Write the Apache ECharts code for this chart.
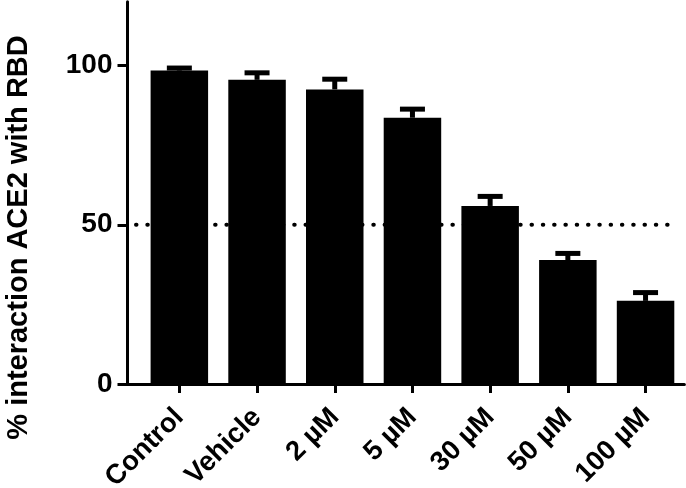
<!DOCTYPE html>
<html>
<head>
<meta charset="utf-8">
<script src="https://cdn.jsdelivr.net/npm/echarts@6/dist/echarts.min.js"></script>
<style>html,body{margin:0;padding:0;background:#fff}#c{width:686px;height:488px}</style>
</head>
<body>
<div id="c"></div>
<script>
const categories = ['Control', 'Vehicle', '2 \u00b5M', '5 \u00b5M', '30 \u00b5M', '50 \u00b5M', '100 \u00b5M'];
const values = [98.4, 95.5, 92.5, 83.6, 55.9, 38.9, 26.1];
const sem = [0.8, 2.2, 3.2, 2.7, 3.0, 2.1, 2.6];
const yTicks = [0, 50, 100];
const refLine = 50;
const yTitle = '% interaction ACE2 with RBD';

const FONT = 'Liberation Sans, Arial, sans-serif';
const chart = echarts.init(document.getElementById('c'), null, {renderer: 'canvas'});
const gTop = 1.8, gBottom = 104;
const gb = {top: gTop, bottom: gBottom, containLabel: false, outerBoundsMode: 'none'};

chart.setOption({
  animation: false,
  backgroundColor: '#fff',
  grid: [
    Object.assign({left: 127.5, right: 1.6}, gb),
    Object.assign({left: 140.5, right: 1.6}, gb),
    Object.assign({left: 136, right: 8}, gb)
  ],
  xAxis: [
    {gridIndex: 0, type: 'value', min: 0, max: 1,
     axisLine: {show: true, onZero: false, lineStyle: {color: '#000', width: 3}},
     axisTick: {show: false}, axisLabel: {show: false}, splitLine: {show: false}},
    {gridIndex: 1, type: 'category', data: categories,
     axisLine: {show: false},
     axisTick: {show: true, alignWithLabel: true, length: 9, lineStyle: {color: '#000', width: 3}},
     axisLabel: {rotate: 45, margin: 29, color: '#000', fontFamily: FONT, fontWeight: 'bold', fontSize: 27.5, interval: 0},
     splitLine: {show: false}},
    {gridIndex: 2, type: 'value', min: 0, max: 1, show: false}
  ],
  yAxis: [
    {gridIndex: 0, type: 'value', min: 0, max: 120,
     axisLine: {show: true, lineStyle: {color: '#000', width: 3}},
     axisTick: {show: true, length: 10, customValues: yTicks, lineStyle: {color: '#000', width: 3}},
     axisLabel: {margin: 15, customValues: yTicks, color: '#000', fontFamily: FONT, fontWeight: 'bold', fontSize: 28},
     splitLine: {show: false}},
    {gridIndex: 1, type: 'value', min: 0, max: 120, show: false},
    {gridIndex: 2, type: 'value', min: 0, max: 120, show: false}
  ],
  graphic: [{
    type: 'text', x: 19, y: 237.5, rotation: Math.PI / 2,
    style: {text: yTitle, fill: '#000', font: 'bold 29px ' + FONT, textAlign: 'center', textVerticalAlign: 'middle'}
  }],
  series: [
    {type: 'line', xAxisIndex: 2, yAxisIndex: 2, z: 1, symbol: 'none', silent: true,
     data: [[0, refLine], [1, refLine]],
     lineStyle: {color: '#000', width: 4, type: [0.5, 10.8], cap: 'round'}},
    {type: 'bar', xAxisIndex: 1, yAxisIndex: 1, z: 3, data: values, barWidth: '74%',
     itemStyle: {color: '#000'}},
    {type: 'custom', xAxisIndex: 1, yAxisIndex: 1, z: 4,
     data: values.map((v, i) => [i, v, v + sem[i]]),
     renderItem: function (params, api) {
       const base = api.coord([api.value(0), api.value(1)]);
       const top = api.coord([api.value(0), api.value(2)]);
       const hw = 12.5;
       const st = {stroke: '#000', lineWidth: 5, fill: null};
       return {type: 'group', children: [
         {type: 'line', shape: {x1: base[0], y1: base[1], x2: top[0], y2: top[1]}, style: st},
         {type: 'line', shape: {x1: top[0] - hw, y1: top[1], x2: top[0] + hw, y2: top[1]}, style: st}
       ]};
     }}
  ]
});
</script>
</body>
</html>
